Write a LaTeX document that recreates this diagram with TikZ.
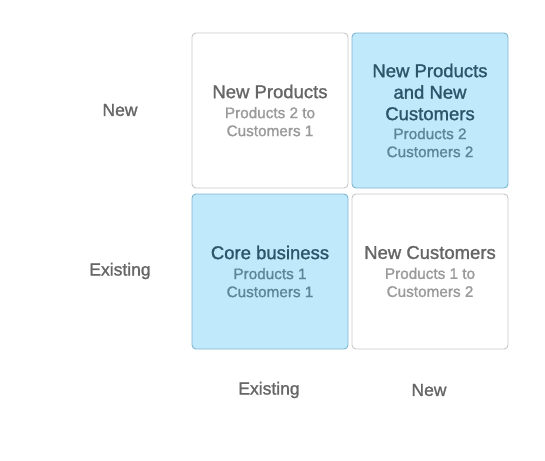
\documentclass[tikz,border=0pt]{standalone}
\usepackage{fontspec}
\setmainfont{Liberation Sans}
\newfontfamily\medfont{Liberation Sans}[FakeBold=1.3]
\definecolor{bluefill}{HTML}{C0E9FC}
\definecolor{blueedge}{HTML}{7FB5CF}
\definecolor{bluetitle}{HTML}{2E5468}
\definecolor{bluesub}{HTML}{5E8699}
\definecolor{greyedge}{HTML}{C8C8C8}
\definecolor{greytitle}{HTML}{666666}
\definecolor{greysub}{HTML}{9A9A9A}
\definecolor{labelcol}{HTML}{666666}
\newcommand{\ttl}{\medfont\fontsize{18.5}{21.5}\selectfont}
\newcommand{\sbt}{\medfont\fontsize{15.3}{18}\selectfont}
\tikzset{
  cell/.style={draw, rounded corners=4pt, line width=0.9pt, minimum width=156pt, minimum height=155pt, inner sep=0pt},
  whitecell/.style={cell, draw=greyedge, fill=white},
  bluecell/.style={cell, draw=blueedge, fill=bluefill},
  celltext/.style={align=center, inner sep=0pt, font=\sbt},
  axislabel/.style={font=\medfont\fontsize{17.5}{19}\selectfont, text=labelcol, inner sep=0pt}
}
\begin{document}
\begin{tikzpicture}[x=1pt,y=-1pt]
\useasboundingbox (0,0) rectangle (545,460);
\node[whitecell] (tl) at (270,110.5) {};
\node[bluecell] (tr) at (430,110.5) {};
\node[bluecell] (bl) at (270,271.5) {};
\node[whitecell] (br) at (430,271.5) {};
\node[celltext] (tlt) at (tl.center) {{\ttl\color{greytitle}New Products}\\[2pt]{\color{greysub}Products 2 to}\\{\color{greysub}Customers 1}};
\node[celltext] (trt) at (tr.center) {{\ttl\color{bluetitle}New Products}\\[3.5pt]{\ttl\color{bluetitle}and New}\\[3.5pt]{\ttl\color{bluetitle}Customers}\\[1pt]{\color{bluesub}Products 2}\\{\color{bluesub}Customers 2}};
\node[celltext] (blt) at (bl.center) {{\ttl\color{bluetitle}Core business}\\[2pt]{\color{bluesub}Products 1}\\{\color{bluesub}Customers 1}};
\node[celltext] (brt) at (br.center) {{\ttl\color{greytitle}New Customers}\\[2pt]{\color{greysub}Products 1 to}\\{\color{greysub}Customers 2}};
\node[axislabel] (ynew) at (120,110) {New};
\node[axislabel] (yex) at (120,271) {Existing};
\node[axislabel] (xex) at (269,390) {Existing};
\node[axislabel] (xnew) at (429,390) {New};
\end{tikzpicture}
\end{document}
